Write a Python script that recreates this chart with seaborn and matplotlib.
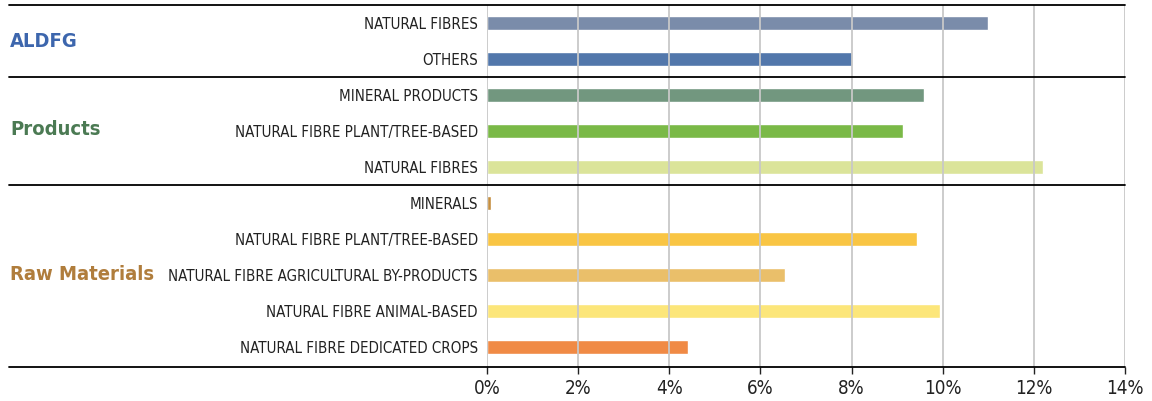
# Horizontal bar chart: share by material type, grouped
import pandas as pd
import matplotlib.pyplot as plt
import seaborn as sns
from matplotlib import transforms

groups = ["ALDFG", "ALDFG",
          "Products", "Products", "Products",
          "Raw Materials", "Raw Materials", "Raw Materials", "Raw Materials", "Raw Materials"]
labels = ["NATURAL FIBRES", "OTHERS",
          "MINERAL PRODUCTS", "NATURAL FIBRE PLANT/TREE-BASED", "NATURAL FIBRES",
          "MINERALS", "NATURAL FIBRE PLANT/TREE-BASED", "NATURAL FIBRE AGRICULTURAL BY-PRODUCTS",
          "NATURAL FIBRE ANIMAL-BASED", "NATURAL FIBRE DEDICATED CROPS"]
values = [11.0, 8.02, 9.6, 9.13, 12.2, 0.08, 9.44, 6.55, 9.93, 4.4]
colors = ["#7a8caa", "#5277ab",
          "#72977f", "#7ab947", "#dbe49a",
          "#c58f40", "#f9c544", "#eabf6a", "#fce67a", "#f08a45"]
group_names = ["ALDFG", "Products", "Raw Materials"]
group_colors = ["#3d66ad", "#4b7a53", "#b07d3c"]
tick_values = [0, 2, 4, 6, 8, 10, 12, 14]

df = pd.DataFrame({"group": groups, "label": labels, "value": values})
df["key"] = df["group"] + ": " + df["label"]

sns.set_style("white")
plt.rcParams['font.family'] = ['DejaVu Sans']
plt.rcParams['font.stretch'] = 'condensed'

W, H = 1152, 401
fig = plt.figure(figsize=(W / 100, H / 100), dpi=100)
ax = fig.add_axes([487 / W, 34 / H, (1125 - 487) / W, (396 - 34) / H])

sns.barplot(data=df, x="value", y="key", hue="key",
            palette=dict(zip(df["key"], colors)), legend=False,
            width=0.4, saturation=1, ax=ax)

ax.set_xlim(0, 14)
ax.set_ylim(9.55, -0.5)
ax.set_xticks(tick_values)
ax.set_xticklabels([f"{v}%" for v in tick_values], fontsize=13.5, color="#222222")
ax.set_yticks(range(len(labels)))
ax.set_yticklabels(labels, fontsize=10.8, color="#222222")
ax.tick_params(axis="y", length=0, pad=6.5)
ax.tick_params(axis="x", bottom=True, length=5, width=1, color="#222222",
               direction="out", pad=4)
ax.set_xlabel("")
ax.set_ylabel("")

ax.xaxis.grid(True, color="#c8c8c8", lw=1.3)
ax.yaxis.grid(False)
ax.set_axisbelow(False)
for s in ax.spines.values():
    s.set_visible(False)

# horizontal separators running into the label area
trans = transforms.blended_transform_factory(fig.transFigure, ax.transData)
for yy in [-0.5, 1.5, 4.5, 9.55]:
    ax.plot([9 / W, 1125 / W], [yy, yy], transform=trans, color="black",
            lw=1.3, clip_on=False, zorder=5)

# group titles
for name, col, yy in zip(group_names, group_colors, [0.5, 2.97, 6.97]):
    ax.text(10 / W, yy, name, transform=trans, color=col, fontsize=14.5,
            fontweight="bold", va="center", ha="left")

fig.savefig("out.png", dpi=100)
